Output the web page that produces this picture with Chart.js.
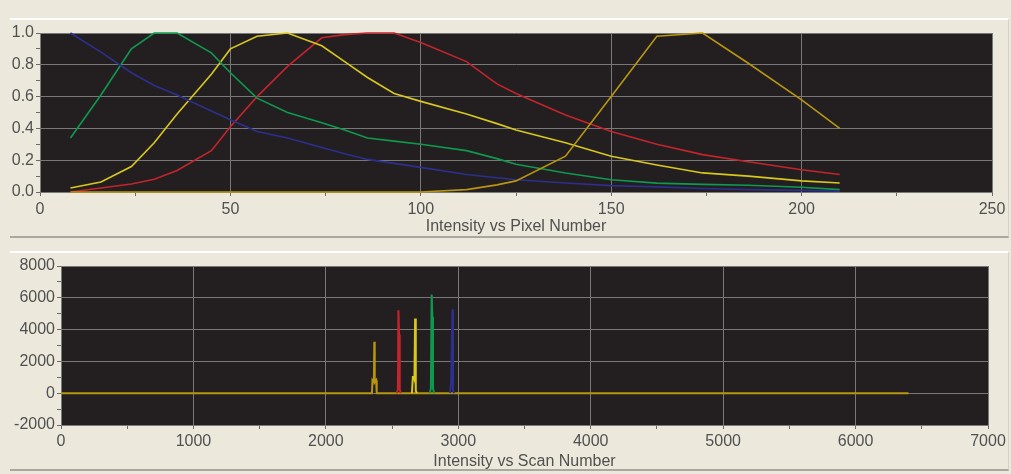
<!DOCTYPE html>
<html><head><meta charset="utf-8">
<script src="https://cdn.jsdelivr.net/npm/chart.js@4.4.0/dist/chart.umd.min.js"></script>
<style>
html,body{margin:0;padding:0;background:#ECE9DC;width:1011px;height:474px;overflow:hidden;position:relative;font-family:"Liberation Sans",Arial,sans-serif}
.panel{position:absolute;left:10px;width:998px;background:#ECE9DC;border-top:2px solid #ffffff;border-bottom:2px solid #a9a79f;border-right:1px solid #d4d1c6}
#p1{top:18px;height:216px}
#p2{top:251px;height:216px}
canvas{position:absolute;left:0}
#c1{top:20px}
#c2{top:253px}
</style></head><body>
<div class="panel" id="p1"></div><div class="panel" id="p2"></div>
<canvas id="c1" width="1011" height="218"></canvas>
<canvas id="c2" width="1011" height="218"></canvas>
<script>
// ---- Top chart: Intensity vs Pixel Number ----
const pixelNumbers = [8,16,24,30,36,45,50,57,65,74,80,86,93,100,112,120,125,138,150,162,174,186,200,210];
const blueIntensity   = [1.00,0.88,0.75,0.67,0.61,0.51,0.455,0.38,0.34,0.28,0.24,0.205,0.18,0.155,0.11,0.09,0.077,0.057,0.04,0.032,0.022,0.015,0.01,0.005];
const greenIntensity  = [0.34,0.61,0.90,1.00,1.00,0.875,0.75,0.59,0.50,0.435,0.39,0.34,0.32,0.30,0.26,0.21,0.175,0.12,0.077,0.056,0.048,0.042,0.03,0.015];
const yellowIntensity = [0.025,0.063,0.16,0.31,0.49,0.74,0.90,0.98,1.00,0.92,0.82,0.72,0.62,0.57,0.49,0.43,0.39,0.31,0.225,0.17,0.12,0.10,0.07,0.057];
const redIntensity    = [0.00,0.025,0.05,0.08,0.135,0.26,0.41,0.60,0.79,0.97,0.99,1.00,1.00,0.94,0.82,0.68,0.62,0.485,0.38,0.30,0.235,0.19,0.14,0.11];
const goldIntensity   = [0,0,0,0,0,0,0,0,0,0,0,0,0,0,0.015,0.045,0.07,0.225,0.60,0.98,1.00,0.81,0.58,0.40];

// ---- Bottom chart: Intensity vs Scan Number ----
const goldScans   = [0,2348,2352,2363,2366,2369,2380,2384,6400];
const goldCounts  = [0,0,820,700,3230,700,820,0,0];
const redScans    = [2535,2544,2548,2553,2558,2566];
const redCounts   = [0,250,5220,3690,250,0];
const yellowScans = [2650,2657,2665,2669,2674,2679,2688];
const yellowCounts= [0,1025,1025,900,4700,150,0];
const greenScans  = [2785,2793,2799,2804,2809,2818];
const greenCounts = [0,300,6210,4800,300,0];
const blueScans   = [2938,2946,2952,2956,2960,2968];
const blueCounts  = [0,710,710,5280,200,0];

const C = {blue:'#2c2f8e', green:'#0e9a4e', yellow:'#d9c81c', red:'#c4242c', gold:'#b8960f'};
const textColor = '#505050';
const gridColor = '#787878';
const font = {family:'"Liberation Sans", Arial, sans-serif', size:16};

const plotBg = {id:'plotBg', beforeDraw(chart){const {ctx, chartArea:a}=chart; ctx.save(); ctx.fillStyle='#231f20'; ctx.fillRect(a.left,a.top,a.right-a.left,a.bottom-a.top); ctx.restore();}};

function pts(xs, ys){ return xs.map((x,i)=>({x:x, y:ys[i]})); }
function ds(data,color,w){ return {data:data, borderColor:color, borderWidth:w, pointRadius:0, tension:0, fill:false, clip:3}; }

function axis(min,max,step,labelEvery,fit,isX,title,titleBottom,pad){
  const isMajor = v => Math.abs(Math.round(v/step) % Math.round(labelEvery/step)) === 0;
  const o = {
    type:'linear', min:min, max:max,
    ticks:{stepSize:step, autoSkip:false, maxRotation:0, color:textColor, font:font, padding:pad,
      callback:(v)=> isMajor(v) ? (labelEvery<1 ? v.toFixed(1) : String(Math.round(v))) : ''},
    grid:{color:(c)=> (c.tick && isMajor(c.tick.value)) ? gridColor : 'rgba(0,0,0,0)', tickColor:'#6a6a6a', tickLength:4, lineWidth:1, drawOnChartArea:true},
    border:{display:true, color:'#7a7a7a'},
    afterFit:(s)=>{ if(isX) s.height=fit; else s.width=fit; }
  };
  if (title) o.title = {display:true, text:title, color:textColor, font:font, padding:{top:0,bottom:titleBottom}};
  return o;
}

new Chart(document.getElementById('c1'), {
  type:'line',
  data:{datasets:[
    ds(pts(pixelNumbers,goldIntensity),C.gold,1.6),
    ds(pts(pixelNumbers,blueIntensity),C.blue,1.6),
    ds(pts(pixelNumbers,greenIntensity),C.green,1.6),
    ds(pts(pixelNumbers,yellowIntensity),C.yellow,1.6),
    ds(pts(pixelNumbers,redIntensity),C.red,1.6)
  ]},
  options:{responsive:false, animation:false, devicePixelRatio:1,
    layout:{padding:{left:0,right:19,top:13,bottom:0}},
    plugins:{legend:{display:false}, tooltip:{enabled:false}},
    scales:{
      x: axis(0,250,25,50,46,true,'Intensity vs Pixel Number',2,4),
      y: axis(0,1,0.1,0.2,40,false,null,0,2)
    }},
  plugins:[plotBg]
});

new Chart(document.getElementById('c2'), {
  type:'line',
  data:{datasets:[
    ds(pts(blueScans,blueCounts),C.blue,2),
    ds(pts(greenScans,greenCounts),C.green,2),
    ds(pts(yellowScans,yellowCounts),C.yellow,2),
    ds(pts(redScans,redCounts),C.red,2),
    ds(pts(goldScans,goldCounts),C.gold,2)
  ]},
  options:{responsive:false, animation:false, devicePixelRatio:1,
    layout:{padding:{left:0,right:23,top:13,bottom:0}},
    plugins:{legend:{display:false}, tooltip:{enabled:false}},
    scales:{
      x: axis(0,7000,500,1000,46,true,'Intensity vs Scan Number',0,3),
      y: axis(-2000,8000,1000,2000,61,false,null,0,2)
    }},
  plugins:[plotBg]
});
</script>
</body></html>
